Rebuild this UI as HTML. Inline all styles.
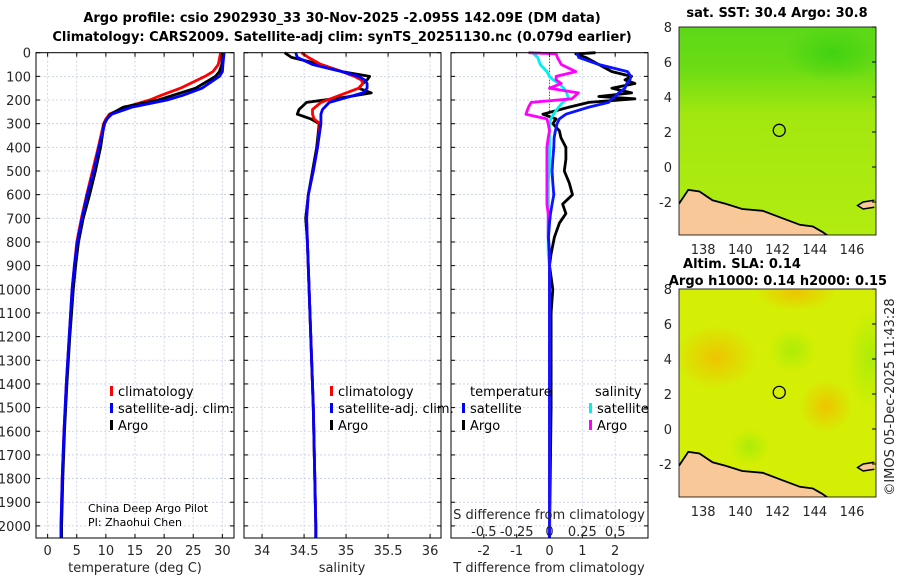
<!DOCTYPE html>
<html><head><meta charset="utf-8"><style>
body{margin:0;background:#fff;}
svg{display:block;font-family:"DejaVu Sans","Liberation Sans",sans-serif;}
.tk{font-size:13px;fill:#262626;}
.tt{font-size:13px;font-weight:bold;fill:#000;}
.lg{font-size:13px;fill:#000;}
</style></head><body>
<svg id="fig" width="900" height="580" viewBox="0 0 900 580">
<defs>
<linearGradient id="sstg" x1="0" y1="0" x2="0" y2="1">
<stop offset="0" stop-color="#5cd818"/><stop offset="0.2" stop-color="#6cdc14"/><stop offset="0.42" stop-color="#a2e810"/><stop offset="1" stop-color="#b2ec10"/>
</linearGradient>
<radialGradient id="b1"><stop offset="0" stop-color="#f0c000" stop-opacity="0.9"/><stop offset="1" stop-color="#f0c000" stop-opacity="0"/></radialGradient>
<radialGradient id="b2"><stop offset="0" stop-color="#a8ec08" stop-opacity="0.9"/><stop offset="1" stop-color="#a8ec08" stop-opacity="0"/></radialGradient>
<radialGradient id="b3"><stop offset="0" stop-color="#38d010" stop-opacity="0.8"/><stop offset="1" stop-color="#38d010" stop-opacity="0"/></radialGradient>
<clipPath id="c1"><rect x="679" y="27" width="197" height="208"/></clipPath>
<clipPath id="c2"><rect x="679" y="289" width="197" height="208"/></clipPath>
</defs>
<g>
<text class="tt" x="342" y="22" text-anchor="middle">Argo profile: csio 2902930_33 30-Nov-2025 -2.095S 142.09E (DM data)</text>
<text class="tt" x="342" y="41" text-anchor="middle">Climatology: CARS2009. Satellite-adj clim: synTS_20251130.nc (0.079d earlier)</text>
</g>
<g id="grid"></g><g id="lines"></g><g id="axes"></g>
<g id="maps"></g>
<text class="tk" x="0" y="0" transform="translate(894,397) rotate(-90)" text-anchor="middle" font-size="13">©IMOS 05-Dec-2025 11:43:28</text>
</svg>
<script>
// ---- data ----
const depthTicks=[0,100,200,300,400,500,600,700,800,900,1000,1100,1200,1300,1400,1500,1600,1700,1800,1900,2000];
const tempTicks=[0,5,10,15,20,25,30];
const salTicks=[34,34.5,35,35.5,36];
const tdTicks=[-2,-1,0,1,2];
const sdTicks=[-0.5,-0.25,0,0.25,0.5];
const sdTickLabels=["-0.5","-0.25","0","0.25","0.5"];
const tDepth=[0,50,80,100,150,180,200,230,260,280,300,400,500,600,700,800,900,1000,1200,1400,1600,1800,2000,2050];
const tArgo=[30.0,29.9,29.5,28.8,25.4,21.5,19.0,13.0,10.8,10.2,9.7,9.1,8.2,7.2,6.1,5.3,4.8,4.4,3.8,3.3,2.9,2.6,2.4,2.4];
const tClim=[29.7,29.3,28.4,27.0,22.8,19.5,17.5,13.4,10.6,10.0,9.6,8.7,7.7,6.7,5.8,5.0,4.6,4.2,3.7,3.2,2.8,2.5,2.3,2.3];
const tSat=[30.3,30.1,30.0,29.5,26.5,23.2,20.5,14.5,11.0,10.2,9.8,8.8,7.9,6.8,5.9,5.1,4.6,4.2,3.7,3.2,2.8,2.5,2.3,2.3];
const sDepth=[0,20,50,80,100,115,130,150,170,190,210,240,260,280,300,400,500,600,700,800,1000,1500,2000,2050];
const sArgo=[34.27,34.35,34.7,34.95,35.28,35.25,35.2,35.15,35.3,34.95,34.53,34.44,34.42,34.58,34.68,34.65,34.6,34.55,34.52,34.54,34.56,34.61,34.64,34.64];
const sClim=[34.47,34.55,34.7,34.95,35.1,35.18,35.2,35.15,35.0,34.85,34.7,34.6,34.6,34.62,34.69,34.66,34.61,34.55,34.53,34.54,34.56,34.61,34.64,34.64];
const sSat=[34.4,34.42,34.6,34.95,35.15,35.22,35.25,35.25,35.2,35.0,34.8,34.72,34.7,34.7,34.7,34.66,34.61,34.55,34.53,34.54,34.56,34.61,34.64,34.64];
const dDepth=[0,5,20,50,80,100,115,130,150,170,185,195,210,230,260,280,300,330,360,400,450,500,550,600,640,680,720,780,850,900,1000,1100,1300,1500,2050];
const dtArgo=[1.4,0.8,1.1,1.5,1.9,2.5,2.3,2.6,1.9,2.5,1.5,2.6,1.2,0.6,-0.2,0.2,0.1,0.3,0.35,0.5,0.5,0.45,0.6,0.7,0.4,0.5,0.3,0.15,0.05,0,0.1,0.05,0.05,0.05,0];
const dtSat=[0.83,0.85,0.89,1.5,2.38,2.48,2.45,2.35,2.3,2.1,2.0,1.9,1.8,1.2,0.5,0.3,0.23,0.18,0.14,0.13,0.1,0.08,0.1,0.13,0.08,0.03,0,-0.03,0,0,0,0,0,0,0];
const dsSat=[-0.07,-0.12,-0.09,-0.07,-0.02,0,0.03,0.07,0.11,0.13,0.14,0.14,0.1,0.07,0.03,0.01,0,0,0,0,0,0,-0.01,-0.01,-0.01,-0.01,-0.01,-0.01,-0.01,0,0,0,0,0,0];
const dsArgo=[-0.16,0.05,0.06,0.09,0.2,0.05,0.05,0.09,0.0,0.22,0.19,0.17,-0.14,-0.16,-0.18,-0.02,-0.01,0,-0.01,-0.02,-0.02,-0.02,-0.02,-0.02,-0.02,-0.01,-0.01,-0.01,0,0,0,0,0,0,0];
const lonTicks=[138,140,142,144,146];
const latTicks=[8,6,4,2,0,-2];
const floatLon=142.09, floatLat=2.095;
// ---- scales ----
const yD=d=>52.7+d*0.2366;
const P=[{x0:36,x1:234,lo:-2,hi:32},{x0:244,x1:441,lo:33.785,hi:36.13},{x0:451,x1:648,lo:-3,hi:3}];
const xs=(p,v)=>P[p].x0+(v-P[p].lo)/(P[p].hi-P[p].lo)*(P[p].x1-P[p].x0);
const xsd=v=>xs(2,v*4);
const NS='http://www.w3.org/2000/svg';
function mk(tag,attrs,parent,txt){const e=document.createElementNS(NS,tag);for(const k in attrs)e.setAttribute(k,attrs[k]);if(txt!=null)e.textContent=txt;parent.appendChild(e);return e;}
const G=document.getElementById('grid'),L=document.getElementById('lines'),A=document.getElementById('axes'),M=document.getElementById('maps');
const yB=538;
P.forEach((p,i)=>{
 depthTicks.forEach(d=>{const l=mk('line',{x1:p.x0,x2:p.x1,y1:yD(d),y2:yD(d),stroke:'#c4cbe8','stroke-width':0.8,'stroke-dasharray':'2,2'},G);
 
 });
 const tks=i==0?tempTicks:i==1?salTicks:tdTicks;
 tks.forEach(v=>{const x=xs(i,v);const l=mk('line',{x1:x,x2:x,y1:52.7,y2:yB,stroke:'#c4cbe8','stroke-width':0.8,'stroke-dasharray':'2,2'},G);
 
 
 mk('line',{x1:x,x2:x,y1:yB,y2:yB-4,stroke:'#000'},A);mk('line',{x1:x,x2:x,y1:52.7,y2:56.7,stroke:'#000'},A);
 const t=mk('text',{class:'tk',x:x,y:555,'text-anchor':'middle'},A,String(v));
 
 });
 depthTicks.forEach(d=>{mk('line',{x1:p.x0,x2:p.x0+4,y1:yD(d),y2:yD(d),stroke:'#000'},A);mk('line',{x1:p.x1,x2:p.x1-4,y1:yD(d),y2:yD(d),stroke:'#000'},A);});
 const r=mk('rect',{x:p.x0,y:52.7,width:p.x1-p.x0,height:yB-52.7,fill:'none',stroke:'#000','stroke-width':1},A);
 
 
});
depthTicks.forEach(d=>{const t=mk('text',{class:'tk',x:31,y:yD(d)+5,'text-anchor':'end'},A,String(d));
 
 });
sdTicks.forEach((v,k)=>{const t=mk('text',{class:'tk',x:xsd(v),y:536,'text-anchor':'middle'},A,sdTickLabels[k]);
 
 });
[['temperature (deg C)',135],['salinity',342],['T difference from climatology',549]].forEach(([s,x])=>{const t=mk('text',{class:'tk',x:x,y:572,'text-anchor':'middle'},A,s);
 
 });
{const t=mk('text',{class:'tk',x:549,y:519,'text-anchor':'middle'},A,'S difference from climatology');
 
 }
mk('line',{x1:xs(2,0),x2:xs(2,0),y1:yD(0),y2:yD(260),stroke:'#333','stroke-dasharray':'1,2'},G);
function line(ds,vs,fx,col,name){const pts=ds.map((d,k)=>fx(vs[k]).toFixed(1)+','+yD(d).toFixed(1)).join(' ');
 const e=mk('polyline',{points:pts,fill:'none',stroke:col,'stroke-width':2.8,'stroke-linejoin':'round'},L);
 
 }
line(tDepth,tClim,v=>xs(0,v),'#f00','temp-climatology-line');
line(tDepth,tArgo,v=>xs(0,v),'#000','temp-argo-line');
line(tDepth,tSat,v=>xs(0,v),'#00f','temp-satellite-line');
line(sDepth,sArgo,v=>xs(1,v),'#000','sal-argo-line');
line(sDepth,sClim,v=>xs(1,v),'#f00','sal-climatology-line');
line(sDepth,sSat,v=>xs(1,v),'#00f','sal-satellite-line');
line(dDepth,dtArgo,v=>xs(2,v),'#000','tdiff-argo-line');
line(dDepth,dsSat,xsd,'#00f0f0','sdiff-satellite-line');
line(dDepth,dsArgo,xsd,'#f0f','sdiff-argo-line');
line(dDepth,dtSat,v=>xs(2,v),'#0a14ff','tdiff-satellite-line');
function leg(x,y,col,s,name){const g=mk('g',{},A);
 if(col)mk('rect',{x:x-8,y:y-10,width:3,height:10,fill:col},g);mk('text',{class:'lg',x:x,y:y},g,s);}
leg(118,396,'#f00','climatology','legend-climatology');leg(118,413,'#00f','satellite-adj. clim.','legend-satellite-adj');leg(118,430,'#000','Argo','legend-argo');
leg(338,396,'#f00','climatology','legend-climatology-2');leg(338,413,'#00f','satellite-adj. clim.','legend-satellite-adj-2');leg(338,430,'#000','Argo','legend-argo-2');
leg(470,396,null,'temperature','legend-temperature-header');leg(470,413,'#00f','satellite','legend-t-satellite');leg(470,430,'#000','Argo','legend-t-argo');
leg(595,396,null,'salinity','legend-salinity-header');leg(597,413,'#00f0f0','satellite','legend-s-satellite');leg(597,430,'#f0f','Argo','legend-s-argo');
{const g=mk('g',{},A);
 mk('text',{x:88,y:512,'font-size':11},g,'China Deep Argo Pilot');mk('text',{x:88,y:526,'font-size':11},g,'PI: Zhaohui Chen');}
const mx=lon=>679+(lon-136.7)*18.6;
function drawMap(top,kind){const my=lat=>top+(8-lat)*17.5;
 const g=mk('g',{'clip-path':top<100?'url(#c1)':'url(#c2)'},M);
 
 
 if(kind=='sst'){mk('rect',{x:679,y:top,width:197,height:208,fill:'url(#sstg)'},g);
  mk('ellipse',{cx:mx(145),cy:my(6.5),rx:50,ry:28,fill:'url(#b3)'},g);}
 else{mk('rect',{x:679,y:top,width:197,height:208,fill:'#d4ee04'},g);
  mk('ellipse',{cx:mx(138.7),cy:my(4.1),rx:40,ry:32,fill:'url(#b1)'},g);
  mk('ellipse',{cx:mx(143),cy:my(7.8),rx:40,ry:18,fill:'url(#b1)'},g);
  mk('ellipse',{cx:mx(144.6),cy:my(1.3),rx:26,ry:26,fill:'url(#b1)'},g);
  mk('ellipse',{cx:mx(142.8),cy:my(4.5),rx:24,ry:22,fill:'url(#b2)'},g);
  mk('ellipse',{cx:mx(147),cy:my(4),rx:24,ry:50,fill:'url(#b2)'},g);
  mk('ellipse',{cx:mx(140.5),cy:my(-1),rx:20,ry:18,fill:'url(#b2)'},g);}
 const coast=[[136.7,-2.1],[137.2,-1.3],[137.8,-1.4],[138.5,-1.9],[139.2,-2.1],[140.1,-2.4],[141.2,-2.5],[142.2,-2.9],[143.2,-3.3],[143.9,-3.4],[144.4,-3.7],[144.8,-4]];
 const pts=coast.map(c=>mx(c[0]).toFixed(1)+','+my(c[1]).toFixed(1));
 mk('polygon',{points:pts.join(' ')+' '+mx(144.8)+','+my(-4)+' '+mx(136.7)+','+my(-4),fill:'#f8c898'},g);
 mk('polyline',{points:pts.join(' '),fill:'none',stroke:'#000','stroke-width':1.8},g);
 mk('path',{d:`M${mx(147.2)} ${my(-1.9)} L${mx(146.6)} ${my(-2)} L${mx(146.3)} ${my(-2.2)} L${mx(146.6)} ${my(-2.4)} L${mx(147.2)} ${my(-2.3)}`,fill:'#f8c898',stroke:'#000','stroke-width':1.5},g);
 const c=mk('circle',{cx:mx(floatLon),cy:my(floatLat),r:6,fill:'none',stroke:'#000','stroke-width':1.3},M);
 
 
 mk('rect',{x:679,y:top,width:197,height:208,fill:'none',stroke:'#000','stroke-width':0.8},M);
 latTicks.forEach(v=>{const t=mk('text',{class:'tk',x:672,y:my(v)+5,'text-anchor':'end'},M,String(v));
  
  
  mk('line',{x1:876,x2:872,y1:my(v),y2:my(v),stroke:'#000'},M);});
 lonTicks.forEach(v=>{const t=mk('text',{class:'tk',x:mx(v),y:top+227,'text-anchor':'middle'},M,String(v));
  
  });
}
drawMap(27,'sst');drawMap(289,'sla');
[['sat. SST: 30.4 Argo: 30.8',777,17,'sst-map-title'],['Altim. SLA: 0.14',742,268,'sla-map-title'],['Argo h1000: 0.14 h2000: 0.15',778,285,'sla-map-subtitle']].forEach(([s,x,y,n])=>{
 const t=mk('text',{class:'tt',x:x,y:y,'text-anchor':'middle'},M,s);
 
 });
</script>
</body></html>
